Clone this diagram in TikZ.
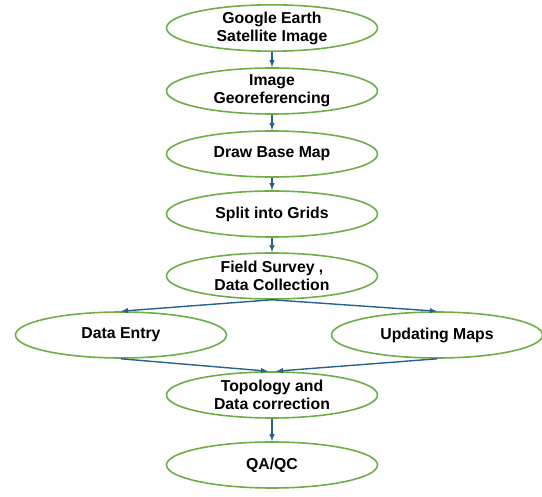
\documentclass[tikz,border=0pt]{standalone}
\usepackage{fontspec}
\setmainfont{Liberation Sans}
\usepackage{tikz}
\usetikzlibrary{calc}
\usetikzlibrary{shapes}
\definecolor{stepgreen}{RGB}{112,173,71}
\definecolor{flowblue}{RGB}{38,98,140}
\tikzset{
  stepbox/.style={shape=ellipse,draw=stepgreen,line width=1.6pt,fill=white,
    inner sep=0pt,minimum width=211pt,minimum height=46pt,align=center,
    font=\fontsize{15.8}{18}\selectfont\bfseries},
  flow/.style={draw=flowblue,line width=1.4pt,-latex}
}
\newcommand{\stepnode}[4]{\node[stepbox] (#1) at ( #2 , #3 ) {#4};}
\begin{document}
\begin{tikzpicture}[x=1pt,y=-1pt]
        \useasboundingbox (0,0) rectangle (542,497);
        % main column
        \stepnode{earth}{272}{28}{Google Earth\\Satellite Image}
        \stepnode{georef}{272}{91}{Image\\Georeferencing}
        \stepnode{basemap}{272}{154}{Draw Base Map}
        \stepnode{grids}{272}{214}{Split into Grids}
        \stepnode{survey}{272}{276}{Field Survey ,\\Data Collection}
        % side branches
        \stepnode{entry}{121}{335}{Data Entry}
        \stepnode{maps}{437}{335}{Updating Maps}
        % bottom
        \stepnode{topo}{272}{395}{Topology and\\Data correction}
        \stepnode{qaqc}{272}{465}{QA/QC}
        % arrows
        \draw[flow] (earth) -- (georef);
        \draw[flow] (georef) -- (basemap);
        \draw[flow] (basemap) -- (grids);
        \draw[flow] (grids) -- (survey);
        \draw[flow] (survey.south) -- (entry.north);
        \draw[flow] (survey.south) -- (maps.north);
        \coordinate (topoL) at ($(topo.north)+(-4,0)$);
        \coordinate (topoR) at ($(topo.north)+(4,0)$);
        \draw[flow] (entry.south) -- (topoL);
        \draw[flow] (maps.south) -- (topoR);
        \draw[flow] (topo) -- (qaqc);
\end{tikzpicture}
\end{document}
